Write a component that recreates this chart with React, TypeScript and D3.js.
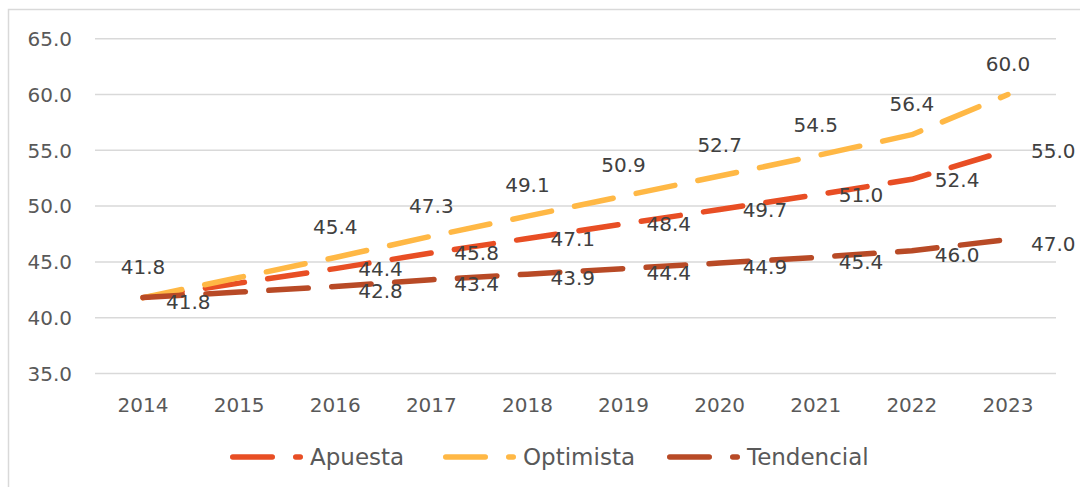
import React, { useEffect } from "react";
import * as d3 from "d3";

const years = ["2014", "2015", "2016", "2017", "2018", "2019", "2020", "2021", "2022", "2023"];
const apuesta = [41.8, 43.1, 44.4, 45.8, 47.1, 48.4, 49.7, 51.0, 52.4, 55.0];
const optimista = [41.8, 43.6, 45.4, 47.3, 49.1, 50.9, 52.7, 54.5, 56.4, 60.0];
const tendencial = [41.8, 42.3, 42.8, 43.4, 43.9, 44.4, 44.9, 45.4, 46.0, 47.0];
const yTicks = [35, 40, 45, 50, 55, 60, 65];
const seriesNames = ["Apuesta", "Optimista", "Tendencial"];
// which data labels are shown (others hidden in the original)
const apuestaLabelShown = [false, false, true, true, true, true, true, true, true, true];
const optimistaLabelShown = [true, false, true, true, true, true, true, true, true, true];
const tendencialLabelShown = [true, false, true, true, true, true, true, true, true, true];

const W = 1080;
const H = 487;
const FONT = "'DejaVu Sans', sans-serif";
const DASH = "39.5 23.5";
const SW = 5.5;

type Series = {
  name: string;
  values: number[];
  color: string;
  shown: boolean[];
  pos: "above" | "right";
  dy: number;
};

const series: Series[] = [
  { name: seriesNames[0], values: apuesta, color: "#E84E24", shown: apuestaLabelShown, pos: "right", dy: 0 },
  { name: seriesNames[1], values: optimista, color: "#FFB845", shown: optimistaLabelShown, pos: "above", dy: -31 },
  { name: seriesNames[2], values: tendencial, color: "#B84A26", shown: tendencialLabelShown, pos: "right", dy: 4 },
];

export default function App() {
  useEffect(() => {
    document.body.style.margin = "0";
  }, []);

  const x = d3.scaleBand<string>().domain(years).range([95, 1056]).padding(0);
  const cx = (d: string) => (x(d) as number) + x.bandwidth() / 2;
  const y = d3.scaleLinear().domain([35, 65]).range([373.5, 38.7]);

  const line = d3
    .line<number>()
    .x((_, i) => cx(years[i]))
    .y((v) => y(v));

  const legendX = [230, 443, 667];
  const legendY = 457;

  return (
    <svg width={W} height={H} style={{ display: "block", background: "#fff" }} fontFamily={FONT}>
      <rect x={8.5} y={9.5} width={1076} height={490} fill="#fff" stroke="#d9d9d9" strokeWidth={1.5} />
      {yTicks.map((t) => (
        <g key={t}>
          <line x1={95} x2={1056} y1={y(t)} y2={y(t)} stroke="#d9d9d9" strokeWidth={1.5} />
          <text x={72} y={y(t) + 7.3} textAnchor="end" fontSize={20} fill="#595959">
            {t.toFixed(1)}
          </text>
        </g>
      ))}
      {years.map((yr) => (
        <text key={yr} x={cx(yr)} y={412.3} textAnchor="middle" fontSize={20} fill="#595959">
          {yr}
        </text>
      ))}
      {series.map((s) => (
        <path
          key={s.name}
          d={line(s.values) || ""}
          fill="none"
          stroke={s.color}
          strokeWidth={SW}
          strokeDasharray={DASH}
          strokeLinecap="round"
          strokeLinejoin="round"
        />
      ))}
      {series.map((s) =>
        s.values.map((v, i) =>
          s.shown[i] ? (
            <text
              key={s.name + i}
              x={s.pos === "above" ? cx(years[i]) : cx(years[i]) + 23}
              y={y(v) + s.dy + 7.3}
              textAnchor={s.pos === "above" ? "middle" : "start"}
              fontSize={20}
              fill="#404040"
            >
              {v.toFixed(1)}
            </text>
          ) : null
        )
      )}
      {series.map((s, k) => (
        <g key={"lg" + s.name}>
          <path
            d={`M${legendX[k] + 2.75},${legendY}H${legendX[k] + 70.25}`}
            stroke={s.color}
            strokeWidth={SW}
            strokeDasharray={DASH}
            strokeLinecap="round"
            fill="none"
          />
          <text x={legendX[k] + 80} y={legendY + 8} fontSize={23} fill="#595959">
            {s.name}
          </text>
        </g>
      ))}
    </svg>
  );
}
